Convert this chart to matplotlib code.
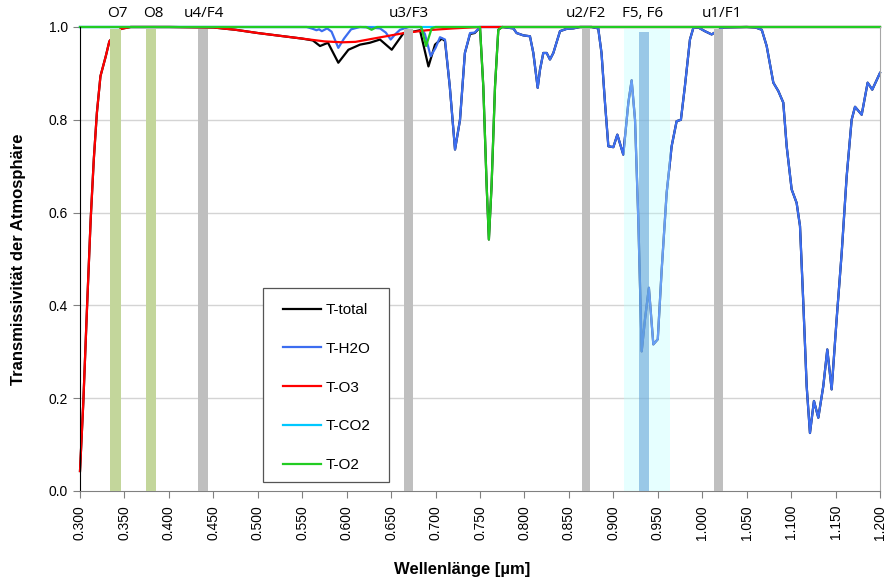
import matplotlib
matplotlib.use("Agg")
import matplotlib.pyplot as plt
from matplotlib.patches import Rectangle

plt.rcParams['font.family'] = ['Liberation Sans', 'DejaVu Sans']

# -----------------------------
# Data
# -----------------------------
# Ozone transmissivity
wl_o3 = [0.300, 0.3037, 0.308, 0.312, 0.3155, 0.319, 0.323, 0.329, 0.333, 0.340,
         0.346, 0.357, 0.400, 0.450, 0.475, 0.500, 0.525, 0.550, 0.575, 0.595,
         0.610, 0.630, 0.650, 0.665, 0.690, 0.720, 0.750, 0.800, 1.200]
t_o3 = [0.043, 0.19, 0.40, 0.585, 0.714, 0.815, 0.894, 0.937, 0.969, 0.985,
        0.996, 1.0, 1.0, 0.999, 0.994, 0.987, 0.981, 0.975, 0.969, 0.967,
        0.968, 0.975, 0.982, 0.987, 0.993, 0.997, 1.0, 1.0, 1.0]

# Water vapour transmissivity
wl_h2o = [0.300, 0.555, 0.562, 0.566, 0.569, 0.572, 0.578, 0.583, 0.5906, 0.597,
          0.605, 0.615, 0.625, 0.6375, 0.644, 0.6495, 0.655, 0.660, 0.670, 0.683,
          0.688, 0.6945, 0.700, 0.705, 0.7106, 0.716, 0.7219, 0.7275, 0.733, 0.7388,
          0.744, 0.750, 0.775, 0.7875, 0.7912, 0.7987, 0.8062, 0.810, 0.8149, 0.8175,
          0.8212, 0.825, 0.8287, 0.8325, 0.840, 0.8475, 0.855, 0.8625, 0.8755, 0.883,
          0.8867, 0.8906, 0.8944, 0.900, 0.9045, 0.9112, 0.9169, 0.9206, 0.9244, 0.9281,
          0.9319, 0.9356, 0.940, 0.945, 0.950, 0.9544, 0.960, 0.9656, 0.9712, 0.976,
          0.9805, 0.9862, 0.990, 0.9956, 1.003, 1.0106, 1.0237, 1.050, 1.060, 1.067,
          1.0725, 1.080, 1.0856, 1.0912, 1.095, 1.1006, 1.1062, 1.110, 1.1137, 1.1175,
          1.1212, 1.1257, 1.1306, 1.1362, 1.1407, 1.1456, 1.1512, 1.1569, 1.1625, 1.1681,
          1.1719, 1.1794, 1.1861, 1.1913, 1.200]
t_h2o = [1.0, 1.0, 0.996, 0.993, 0.995, 0.991, 0.997, 0.990, 0.955, 0.975,
         0.995, 1.0, 0.999, 0.997, 0.988, 0.973, 0.985, 0.994, 1.0, 1.0,
         0.985, 0.937, 0.955, 0.978, 0.973, 0.872, 0.736, 0.80, 0.944, 0.987,
         0.988, 1.0, 1.0, 0.997, 0.987, 0.982, 0.980, 0.944, 0.869, 0.908,
         0.944, 0.944, 0.930, 0.944, 0.991, 0.996, 0.997, 1.0, 1.0, 0.997,
         0.944, 0.837, 0.743, 0.741, 0.768, 0.725, 0.837, 0.885, 0.80, 0.585,
         0.301, 0.37, 0.438, 0.316, 0.327, 0.477, 0.643, 0.743, 0.797, 0.80,
         0.872, 0.973, 0.998, 0.999, 0.991, 0.984, 0.999, 1.0, 0.999, 0.994,
         0.959, 0.88, 0.862, 0.837, 0.743, 0.65, 0.621, 0.571, 0.406, 0.226,
         0.125, 0.194, 0.158, 0.226, 0.305, 0.219, 0.37, 0.513, 0.678, 0.80,
         0.828, 0.811, 0.88, 0.865, 0.901]

# Oxygen transmissivity
wl_o2 = [0.300, 0.622, 0.628, 0.634, 0.684, 0.6893, 0.6956, 0.700, 0.750, 0.7537,
         0.7575, 0.760, 0.763, 0.7669, 0.7706, 0.775, 1.200]
t_o2 = [1.0, 1.0, 0.994, 1.0, 1.0, 0.959, 0.997, 1.0, 1.0, 0.872,
        0.657, 0.542, 0.657, 0.872, 0.994, 1.0, 1.0]

# CO2 transmissivity
wl_co2 = [0.300, 0.750, 1.200]
t_co2 = [1.0, 1.0, 1.0]

# Total transmissivity (visible part, afterwards identical to H2O)
wl_tot_mid = [0.562, 0.570, 0.579, 0.5906, 0.602, 0.615, 0.626, 0.6375, 0.6507, 0.664,
              0.675, 0.6825, 0.692, 0.6994, 0.707, 0.7106, 0.716, 0.7219, 0.7275, 0.733,
              0.7388, 0.744, 0.750, 0.7537, 0.7575, 0.760, 0.763, 0.7669, 0.7706, 0.775]
t_tot_mid = [0.971, 0.959, 0.966, 0.923, 0.951, 0.962, 0.966, 0.973, 0.951, 0.987,
             0.990, 0.993, 0.915, 0.962, 0.975, 0.970, 0.872, 0.736, 0.80, 0.944,
             0.985, 0.987, 0.999, 0.872, 0.657, 0.542, 0.657, 0.872, 0.994, 1.0]
wl_tot = [w for w in wl_o3 if w <= 0.555] + wl_tot_mid + [w for w in wl_h2o if w > 0.78]
t_tot = ([t for w, t in zip(wl_o3, t_o3) if w <= 0.555] + t_tot_mid
         + [t for w, t in zip(wl_h2o, t_h2o) if w > 0.78])

# Filter / channel bands
band_labels = ["O7", "O8", "u4/F4", "u3/F3", "u2/F2", "u1/F1"]
band_centers = [0.340, 0.380, 0.438, 0.6695, 0.869, 1.018]
band_widths = [0.012, 0.012, 0.011, 0.010, 0.009, 0.010]
band_colors = ["#c3d69b", "#c3d69b", "#bfbfbf", "#bfbfbf", "#bfbfbf", "#bfbfbf"]
label_x = [0.342, 0.382, 0.4395, 0.670, 0.869, 1.0217]

f56_label = "F5, F6"
f56_wide = (0.9125, 0.9635)
f56_narrow = (0.929, 0.9405)
f56_label_x = 0.9333

xticks = [0.300 + 0.05 * i for i in range(19)]
yticks = [0.0, 0.2, 0.4, 0.6, 0.8, 1.0]

# -----------------------------
# Plot
# -----------------------------
fig = plt.figure(figsize=(8.88, 5.83), dpi=100)
ax = fig.add_axes([80 / 888, 92 / 583, 800 / 888, 464 / 583])

for yv in yticks[1:-1]:
    ax.axhline(yv, color="#d4d4d4", lw=1.0, zorder=0)

lw = 1.6
ax.plot(wl_tot, t_tot, color="#000000", lw=lw, label="T-total", zorder=2, clip_on=False)
ax.plot(wl_h2o, t_h2o, color="#3c6df0", lw=lw, label="T-H2O", zorder=2.1, clip_on=False)
ax.plot(wl_o3, t_o3, color="#ff0000", lw=lw, label="T-O3", zorder=2.2, clip_on=False)
ax.plot(wl_co2, t_co2, color="#00c8ff", lw=lw, label="T-CO2", zorder=1.9, clip_on=False)
ax.plot(wl_o2, t_o2, color="#22cc22", lw=lw, label="T-O2", zorder=2.4, clip_on=False)

# bands on top of the curves
for c, w, col in zip(band_centers, band_widths, band_colors):
    ax.axvspan(c - w / 2, c + w / 2, ymin=0, ymax=0.995, color=col, lw=0, zorder=3)
ax.axvspan(*f56_wide, ymin=0, ymax=0.995, color="#b8ffff", alpha=0.35, lw=0, zorder=3)
ax.axvspan(*f56_narrow, ymin=0, ymax=0.99, color="#5b9bd5", alpha=0.55, lw=0, zorder=3.1)

for lab, x in zip(band_labels, label_x):
    ax.text(x, 1.012, lab, ha="center", va="bottom", fontsize=11,
            family=["Open Sans", "DejaVu Sans"], clip_on=False)
ax.text(f56_label_x, 1.012, f56_label, ha="center", va="bottom", fontsize=11,
        family=["Open Sans", "DejaVu Sans"], clip_on=False)

ax.set_xlim(0.3, 1.2)
ax.set_ylim(0.0, 1.0)
ax.set_xticks(xticks)
ax.set_xticklabels([f"{v:.3f}" for v in xticks], rotation=90, fontsize=10)
ax.set_yticks(yticks)
ax.set_yticklabels([f"{v:.1f}" for v in yticks], fontsize=10)
ax.tick_params(axis="both", direction="out", length=5, width=0.8, color="#808080")
ax.tick_params(axis="x", pad=5)

ax.spines["top"].set_visible(False)
ax.spines["left"].set_color("#000000")
ax.spines["bottom"].set_color("#808080")
ax.spines["right"].set_color("#a6a6a6")

ax.set_xlabel("Wellenlänge [µm]", fontsize=12, fontweight="bold")
ax.set_ylabel("Transmissivität der Atmosphäre", fontsize=12, fontweight="bold")
ax.xaxis.set_label_coords(0.4775, -0.152)
ax.yaxis.set_label_coords(-0.068, 0.5)

# legend: entries without frame, frame drawn as a separate box
leg = ax.legend(loc="upper left", bbox_to_anchor=(0.2537, 0.405), fontsize=11,
                handlelength=2.5, labelspacing=1.62, borderpad=0, borderaxespad=0,
                handletextpad=0.3, frameon=False)
leg.set_zorder(6)
ax.add_patch(Rectangle((0.2284, 0.020), 0.1582, 0.4169, transform=ax.transAxes,
                       facecolor="white", edgecolor="#555555", lw=0.9, zorder=5))

fig.savefig("out.png", dpi=100)
